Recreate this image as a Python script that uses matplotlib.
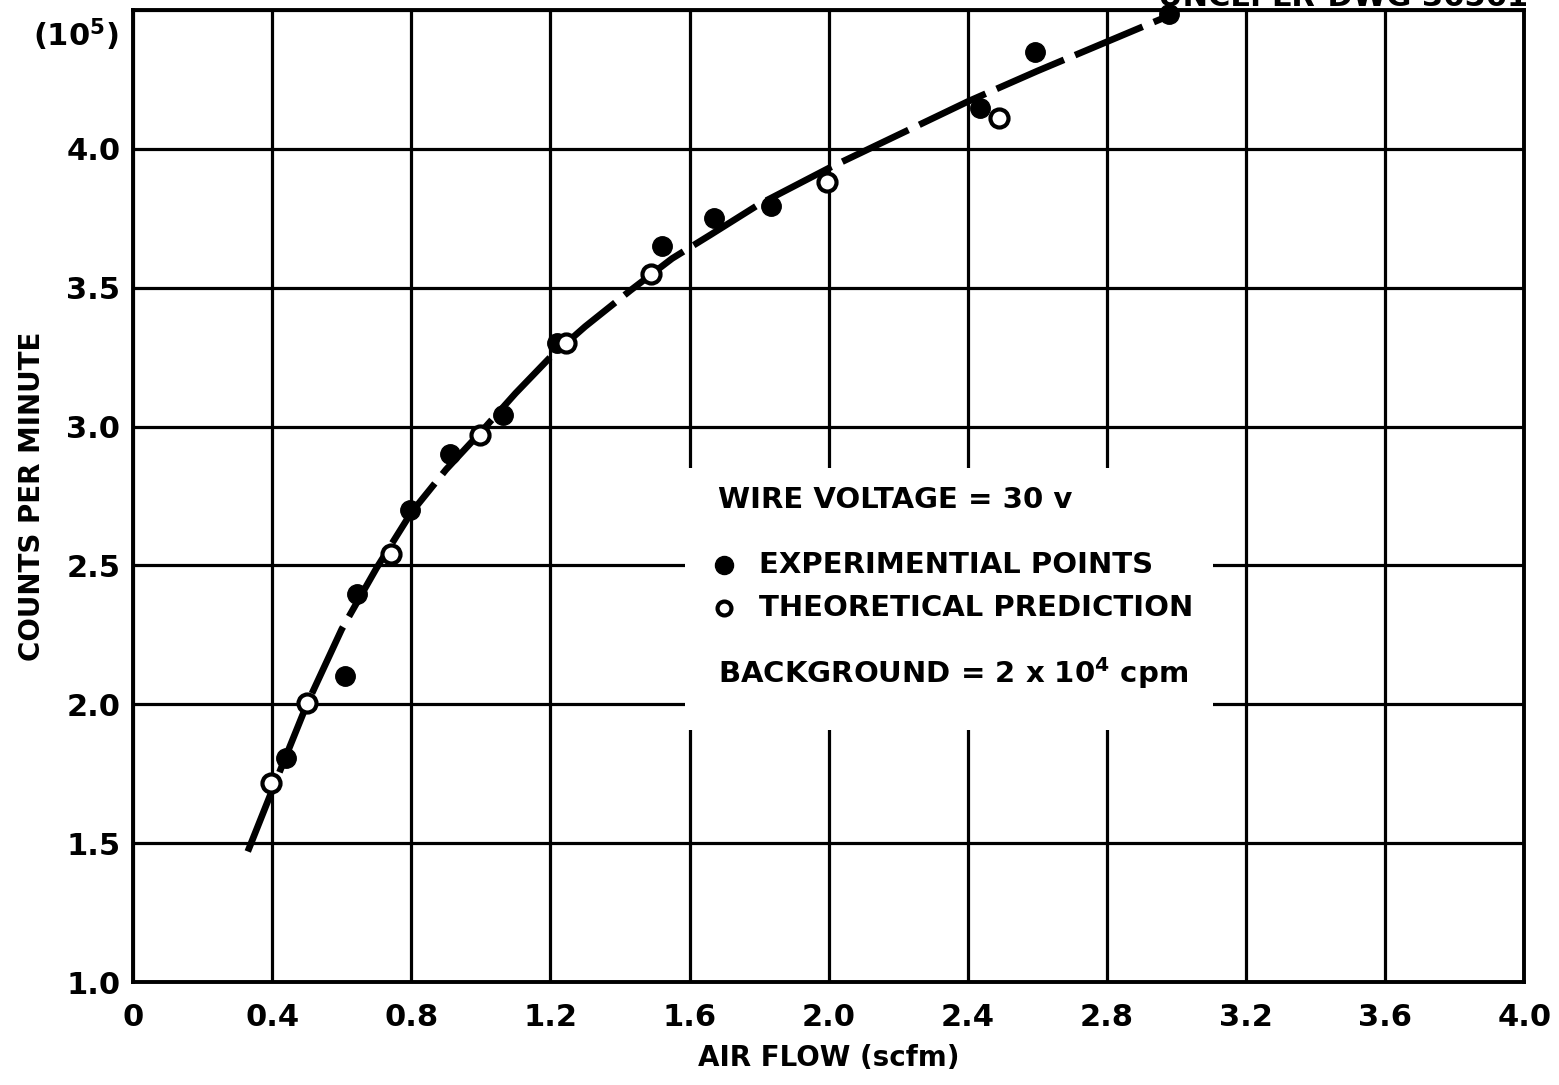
import matplotlib
matplotlib.use("Agg")
import matplotlib.pyplot as plt
from matplotlib.patches import Rectangle

plt.rcParams['font.family'] = ['DejaVu Sans']
plt.rcParams['font.weight'] = 'bold'
plt.rcParams['axes.labelweight'] = 'bold'
plt.rcParams['mathtext.fontset'] = 'dejavusans'
plt.rcParams['mathtext.default'] = 'bf'

# experimental points (air flow in scfm, counts per minute in 1e5)
exp_flow = [0.44, 0.609, 0.643, 0.796, 0.911, 1.063, 1.218, 1.522, 1.67, 1.834, 2.434, 2.594, 2.979]
exp_cpm = [1.806, 2.10, 2.396, 2.70, 2.90, 3.04, 3.30, 3.65, 3.75, 3.795, 4.147, 4.35, 4.484]

# theoretical prediction
th_flow = [0.398, 0.499, 0.743, 0.997, 1.246, 1.49, 1.994, 2.49]
th_cpm = [1.716, 2.004, 2.54, 2.97, 3.30, 3.55, 3.88, 4.11]

# hand drawn fit curve
fit_flow = [0.33, 0.40, 0.50, 0.60, 0.70, 0.80, 0.90, 1.00, 1.10, 1.20, 1.30, 1.43,
            1.55, 1.66, 1.80, 1.90, 2.00, 2.20, 2.40, 2.60, 2.79, 2.98]
fit_cpm = [1.47, 1.69, 2.00, 2.27, 2.49, 2.69, 2.845, 2.98, 3.12, 3.25, 3.36, 3.49,
           3.605, 3.69, 3.80, 3.865, 3.93, 4.05, 4.17, 4.28, 4.38, 4.48]

xticks = [0, 0.4, 0.8, 1.2, 1.6, 2.0, 2.4, 2.8, 3.2, 3.6, 4.0]
xlabels = ['0', '0.4', '0.8', '1.2', '1.6', '2.0', '2.4', '2.8', '3.2', '3.6', '4.0']
yticks = [1.0, 1.5, 2.0, 2.5, 3.0, 3.5, 4.0]
ylabels = ['1.0', '1.5', '2.0', '2.5', '3.0', '3.5', '4.0']

fig = plt.figure(figsize=(15.59, 10.85), dpi=100)
ax = fig.add_axes([0.0853, 0.0949, 0.8925, 0.896])
ax.set_xlim(0, 4.0)
ax.set_ylim(1.0, 4.5)

ax.set_xticks(xticks)
ax.set_xticklabels(xlabels)
ax.set_yticks(yticks + [4.5])
ax.set_yticklabels(ylabels + [''])
ax.tick_params(length=0, labelsize=22)
ax.tick_params(axis='x', pad=15)
ax.tick_params(axis='y', pad=9)
ax.grid(True, color='black', lw=2.3)
ax.set_axisbelow(True)
for s in ax.spines.values():
    s.set_linewidth(2.8)

# blank patch behind the notes
ax.add_patch(Rectangle((1.586, 1.906), 1.52, 0.946, facecolor='white',
                       edgecolor='none', zorder=1))

ax.plot(fit_flow, fit_cpm, color='black', lw=4.8, ls=(0, (11, 1.8)),
        solid_capstyle='butt', dash_capstyle='butt', zorder=2)
ax.plot(exp_flow, exp_cpm, 'o', color='black', ms=14, zorder=3, clip_on=False)
ax.plot(th_flow, th_cpm, 'o', mfc='white', mec='black', mew=3, ms=13, zorder=4,
        clip_on=False)

ax.set_xlabel('AIR FLOW (scfm)', fontsize=20, fontweight='bold', labelpad=9)
ax.set_ylabel('COUNTS PER MINUTE', fontsize=20, fontweight='bold', labelpad=15)

ax.text(-0.04, 4.41, '(10$^5$)', fontsize=22, ha='right', va='center')

ax.text(1.681, 2.705, 'WIRE VOLTAGE = 30 v', fontsize=21, va='baseline', zorder=5)
ax.plot([1.70], [2.50], 'o', color='black', ms=13, zorder=5)
ax.text(1.80, 2.50, 'EXPERIMENTIAL POINTS', fontsize=21, va='center', zorder=5)
ax.plot([1.70], [2.345], 'o', mfc='white', mec='black', mew=3, ms=10, zorder=5)
ax.text(1.80, 2.345, 'THEORETICAL PREDICTION', fontsize=21, va='center', zorder=5)
ax.text(1.681, 2.076, 'BACKGROUND = 2 x 10$^4$ cpm', fontsize=21, va='baseline', zorder=5)

# drawing number, mostly cut off at the top edge
fig.text(0.98, 1 - 6 / 1085, 'UNCL. LR-DWG 36561', fontsize=22, ha='right',
         va='baseline')

fig.savefig('out.png', dpi=100, facecolor='white')
